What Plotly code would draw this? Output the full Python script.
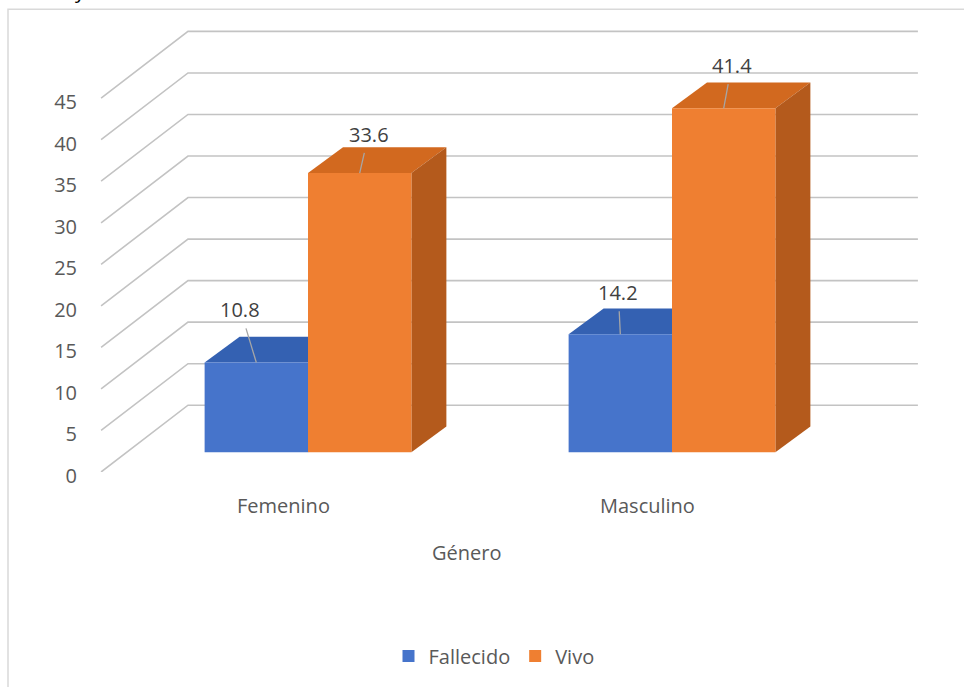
import plotly.graph_objects as go

# ---- data -------------------------------------------------------------
CATEGORIES = ["Femenino", "Masculino"]
SERIES = ["Fallecido", "Vivo"]
FALLECIDO = [10.8, 14.2]
VIVO = [33.6, 41.4]
Y_TICKS = [0, 5, 10, 15, 20, 25, 30, 35, 40, 45]
AXIS_TITLE = "Género"

# ---- geometry of the oblique 3-D look (in axis units) -----------------
PX_X = 364.0          # pixels per category on the x axis
PX_Y = 8.4            # pixels per value unit on the y axis
FLOOR_DX = 88 / PX_X  # depth of the floor / side wall
FLOOR_DY = 67.5 / PX_Y
BAR_FX = 26 / PX_X    # bars stand a little behind the front edge
BAR_FY = 20 / PX_Y
BAR_DX = 35 / PX_X    # depth of each bar
BAR_DY = 26 / PX_Y
BAR_W = 0.284
X_MAX = 2.25
PLOT_H = 455
Y_MAX = PLOT_H / PX_Y

STYLES = [
    dict(front="#4674CB", top="#3461B2", side="#2D5090"),
    dict(front="#EF7F31", top="#D2691F", side="#B45A1C"),
]
# where each value label sits relative to the top of its bar (pixels)
LABEL_SHIFT = [[(-16, -53), (-2, -42)], [(9, -39), (8, -43)]]

TEXT = "#595959"
FONT = "Open Sans"
GRID = "#C3C3C3"

values = [FALLECIDO, VIVO]

shapes = []
# back wall and side wall gridlines
for v in Y_TICKS:
    shapes.append(dict(
        type="path", xref="x", yref="y", layer="below",
        path=f"M0.003,{v} L{FLOOR_DX},{v + FLOOR_DY} L{X_MAX - 0.003},{v + FLOOR_DY}",
        line=dict(color=GRID, width=1.6),
    ))


def bar_center(i, j):
    return i + 0.5 + BAR_FX + (j - 0.5) * BAR_W


# top and side faces of each bar, painted back to front
for i in range(len(CATEGORIES)):
    for j in range(len(SERIES)):
        xc = bar_center(i, j)
        xl, xr = xc - BAR_W / 2, xc + BAR_W / 2
        b, t = BAR_FY, BAR_FY + values[j][i]
        st = STYLES[j]
        shapes.append(dict(
            type="path", xref="x", yref="y", layer="below",
            path=(f"M{xl},{t} L{xl + BAR_DX},{t + BAR_DY} "
                  f"L{xr + BAR_DX},{t + BAR_DY} L{xr},{t} Z"),
            fillcolor=st["top"], line=dict(width=0),
        ))
        shapes.append(dict(
            type="path", xref="x", yref="y", layer="below",
            path=(f"M{xr},{b} L{xr + BAR_DX},{b + BAR_DY} "
                  f"L{xr + BAR_DX},{t + BAR_DY} L{xr},{t} Z"),
            fillcolor=st["side"], line=dict(width=0),
        ))

# chart border
shapes.append(dict(
    type="rect", xref="paper", yref="paper",
    x0=(8 - 100) / 819, x1=1.3, y0=-1.0, y1=(477 - 9) / PLOT_H,
    line=dict(color="#D9D9D9", width=1.5), fillcolor="rgba(0,0,0,0)",
    layer="below",
))

fig = go.Figure()
for j, name in enumerate(SERIES):
    fig.add_trace(go.Bar(
        x=[bar_center(i, j) for i in range(len(CATEGORIES))],
        y=values[j],
        base=BAR_FY,
        width=BAR_W,
        name=name,
        marker=dict(color=STYLES[j]["front"], line=dict(width=0)),
        hoverinfo="skip",
    ))

annotations = []
# value labels with leader lines
for j in range(len(SERIES)):
    for i in range(len(CATEGORIES)):
        ax, ay = LABEL_SHIFT[j][i]
        annotations.append(dict(
            x=bar_center(i, j), y=BAR_FY + values[j][i], xref="x", yref="y",
            text=f"{values[j][i]:.1f}", showarrow=True, arrowhead=0,
            arrowwidth=1.3, arrowcolor="#A6A6A6", ax=ax, ay=ay,
            startstandoff=4, font=dict(family=FONT, size=20, color="#404040"),
        ))
# category labels under the floor
for i, cat in enumerate(CATEGORIES):
    annotations.append(dict(
        x=(i + 0.505) / X_MAX, y=-34 / PLOT_H, xref="paper", yref="paper",
        xanchor="center", yanchor="middle", text=cat, showarrow=False,
        font=dict(family=FONT, size=20, color=TEXT),
    ))
# axis title
annotations.append(dict(
    x=(466 - 100) / 819, y=(477 - 558) / PLOT_H, xref="paper", yref="paper",
    xanchor="center", yanchor="middle", text=AXIS_TITLE, showarrow=False,
    font=dict(family=FONT, size=20, color=TEXT),
))
# descender of the heading above the chart
annotations.append(dict(
    x=(80 - 100) / 819, y=(477 - 6) / PLOT_H, xref="paper", yref="paper",
    xanchor="center", yanchor="bottom", text="y", showarrow=False,
    font=dict(family=FONT, size=20, color="#000000"),
))

fig.update_layout(
    width=964, height=687,
    margin=dict(l=100, r=964 - 100 - 819, t=22, b=210, pad=0),
    paper_bgcolor="white", plot_bgcolor="white",
    barmode="overlay",
    shapes=shapes,
    annotations=annotations,
    showlegend=True,
    legend=dict(
        orientation="h", x=(494 - 100) / 819, xanchor="center",
        y=(477 - 663) / PLOT_H, yanchor="middle",
        font=dict(family=FONT, size=20, color=TEXT),
        itemwidth=30, traceorder="normal",
    ),
    xaxis=dict(range=[0, X_MAX], visible=False, fixedrange=True),
    yaxis=dict(
        range=[0, Y_MAX], tickvals=Y_TICKS, showgrid=False, zeroline=False,
        showline=False, ticks="", ticklabelstandoff=22, ticklabelshift=4,
        tickfont=dict(family=FONT, size=20, color=TEXT), fixedrange=True,
    ),
)

fig.write_html("out.html")
